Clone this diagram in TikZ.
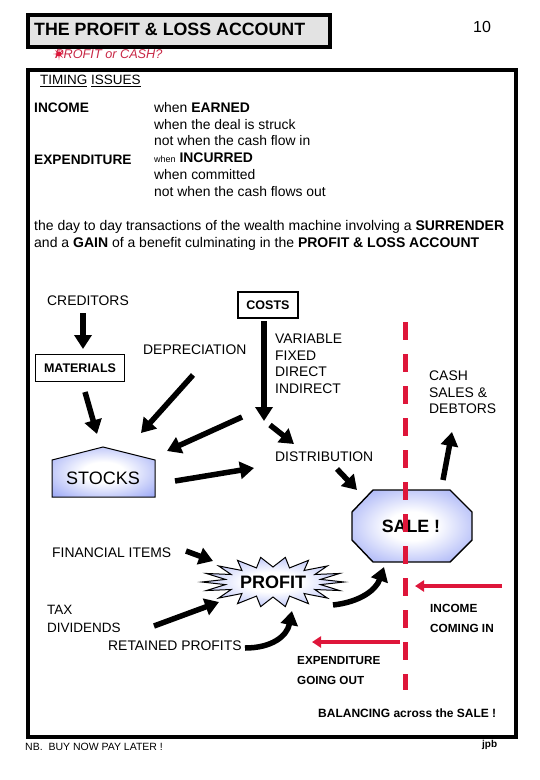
\documentclass[tikz,border=0pt]{standalone}
\usepackage{fontspec}
\setmainfont{Liberation Sans}
\usetikzlibrary{arrows.meta,shapes.geometric}
\definecolor{crim}{RGB}{222,22,58}
\definecolor{pinkred}{RGB}{200,40,70}
\definecolor{shblue}{RGB}{95,115,240}
\pgfdeclareradialshading{bluerad}{\pgfpoint{0bp}{0bp}}{%
  color(0bp)=(white); color(10bp)=(white); color(30bp)=(shblue!50!white); color(48bp)=(shblue); color(72bp)=(shblue)}
\begin{document}
\begin{tikzpicture}[x=1pt,y=-1pt,
  txt/.style={inner sep=0pt, anchor=west, font=\fontsize{13.9}{16.8}\selectfont},
  txtblock/.style={inner sep=0pt, anchor=north west, align=left},
  btxt/.style={inner sep=0pt, anchor=west, font=\bfseries\fontsize{13.7}{15}\selectfont},
  blk/.style={line width=5.5pt, -{Triangle[width=17pt,length=14pt]}},
  redarr/.style={crim, line width=3.5pt, -{Triangle[width=11pt,length=9pt]}},
  boxed/.style={draw, line width=1.6pt, inner sep=0pt, font=\bfseries\fontsize{12.5}{14}\selectfont},
  blueshade/.style={draw=black, line width=1pt, shading=bluerad}]
\useasboundingbox (0,0) rectangle (540,780);

% ---------- title ----------
\node[draw, line width=4pt, fill=gray!22, minimum width=302pt, minimum height=32pt, anchor=north west, inner sep=0pt] (title) at (26,13) {};
\node[anchor=west, inner sep=0pt, font=\bfseries\fontsize{17.8}{20}\selectfont] (ttext) at (34,29) {THE PROFIT \& LOSS ACCOUNT};
\node[inner sep=0pt, font=\fontsize{16}{18}\selectfont] (pnum) at (482,27) {10};

% ---------- subtitle ----------
\node[anchor=west, inner sep=0pt, text=pinkred, font=\itshape\fontsize{12.7}{14}\selectfont] (sub) at (55,54) {PROFIT or CASH?};
\fill[crim] plot[domain=0:360, samples=17, variable=\t] ({59+(3.8+2.2*cos(8*\t))*cos(\t)}, {54+(3.8+2.2*cos(8*\t))*sin(\t)}) -- cycle;

% ---------- main frame ----------
\node[draw, line width=4pt, minimum width=488pt, minimum height=667pt, anchor=north west, inner sep=0pt] (main) at (26,68) {};

\node[txt, font=\fontsize{13.5}{14}\selectfont] (timing) at (40,81) {\underline{TIMING} \underline{ISSUES}};
\node[btxt] (income) at (34,108) {INCOME};
\node[btxt] (expend) at (34,160) {EXPENDITURE};
\node[txtblock, font=\fontsize{13.9}{16.8}\selectfont] (when) at (154,102)
  {when \textbf{EARNED}\\
   when the deal is struck\\
   not when the cash flow in\\
   {\fontsize{9}{10}\selectfont when} \textbf{INCURRED}\\
   when committed\\
   not when the cash flows out};
\node[txtblock, font=\fontsize{14}{17}\selectfont] (para) at (34,220)
  {the day to day transactions of the wealth machine involving a \textbf{SURRENDER}\\
   and a \textbf{GAIN} of a benefit culminating in the \textbf{PROFIT \& LOSS ACCOUNT}};

% ---------- diagram texts ----------
\node[txt] (cred) at (47,301) {CREDITORS};
\node[boxed, minimum width=60pt, minimum height=26pt] (costs) at (268,305) {COSTS};
\node[boxed, minimum width=89pt, minimum height=27pt] (mat) at (80,368) {MATERIALS};
\node[txt] (depr) at (143,350) {DEPRECIATION};
\node[txtblock, font=\fontsize{13.9}{16.5}\selectfont] (vari) at (275,334) {VARIABLE\\FIXED\\DIRECT\\INDIRECT};
\node[txtblock, font=\fontsize{13.9}{16.5}\selectfont] (cash) at (429,371) {CASH\\SALES \&\\DEBTORS};
\node[txt] (distr) at (275,457) {DISTRIBUTION};
\node[txt] (fin) at (52,553) {FINANCIAL ITEMS};
\node[txtblock, font=\fontsize{13.5}{18}\selectfont] (tax) at (47,605) {TAX\\DIVIDENDS};
\node[txt] (ret) at (108,646) {RETAINED PROFITS};
\node[txtblock, font=\bfseries\fontsize{11.8}{20}\selectfont] (inc2) at (430,604) {INCOME\\COMING IN};
\node[txtblock, font=\bfseries\fontsize{11.7}{20}\selectfont] (exp2) at (297,656) {EXPENDITURE\\GOING OUT};
\node[btxt, font=\bfseries\fontsize{12}{14}\selectfont] (bal) at (318,713) {BALANCING across the SALE !};
\node[txt, font=\fontsize{10.5}{12}\selectfont] (nb) at (25,747) {NB.\ \ BUY NOW PAY LATER !};
\node[txt, font=\bfseries\fontsize{10}{12}\selectfont] (sig) at (482,745) {jpb};

% ---------- shapes ----------
\path[blueshade] (52,460) -- (103,447) -- (155,460) -- (155,497) -- (52,497) -- cycle;
\node[inner sep=0pt, font=\fontsize{18}{20}\selectfont] (stocks) at (103,478) {STOCKS};

\path[blueshade, line width=1.4pt] (373,490) -- (450,490) -- (472,512) -- (472,540) -- (450,562) -- (373,562) -- (352,540) -- (352,512) -- cycle;
\node[inner sep=0pt, font=\bfseries\fontsize{17.8}{20}\selectfont] (sale) at (411,526) {SALE !};

\path[blueshade] plot[domain=0:360, samples=37, variable=\t]
  ({273+71*(0.84+0.16*cos(18*\t))*cos(\t)}, {582+25*(0.8+0.2*cos(18*\t))*sin(\t)}) -- cycle;
\node[inner sep=0pt, font=\bfseries\fontsize{18}{20}\selectfont] (profit) at (273,582) {PROFIT};

% ---------- arrow end points ----------
\coordinate (a1s) at (83,313);  \coordinate (a1e) at (83,349);
\coordinate (a2s) at (85,392);  \coordinate (a2e) at (97,434);
\coordinate (a3s) at (193,375); \coordinate (a3e) at (141,433);
\coordinate (a4s) at (264,321); \coordinate (a4e) at (264,421);
\coordinate (a5s) at (242,417); \coordinate (a5e) at (167,451);
\coordinate (a6s) at (270,425); \coordinate (a6e) at (294,444);
\coordinate (a7s) at (175,481); \coordinate (a7e) at (254,468);
\coordinate (a8s) at (337,469); \coordinate (a8e) at (357,490);
\coordinate (a9s) at (443,480); \coordinate (a9e) at (452,432);
\coordinate (a10s) at (186,551); \coordinate (a10e) at (213,561);
\coordinate (a11s) at (154,626); \coordinate (a11e) at (219,602);
\coordinate (a12s) at (333,605); \coordinate (a12e) at (384,567);
\coordinate (a13s) at (245,648); \coordinate (a13e) at (292,611);
\coordinate (r1s) at (502,586); \coordinate (r1e) at (415,586);
\coordinate (r2s) at (400,642); \coordinate (r2e) at (312,642);

% ---------- black arrows ----------
\draw[blk] (a1s) -- (a1e);
\draw[blk] (a2s) -- (a2e);
\draw[blk] (a3s) -- (a3e);
\draw[blk] (a4s) -- (a4e);
\draw[blk] (a5s) -- (a5e);
\draw[blk] (a6s) -- (a6e);
\draw[blk] (a7s) -- (a7e);
\draw[blk] (a8s) -- (a8e);
\draw[blk] (a9s) -- (a9e);
\draw[blk] (a10s) -- (a10e);
\draw[blk] (a11s) -- (a11e);
\draw[blk] (a12s) .. controls (360,602) and (376,590) .. (a12e);
\draw[blk] (a13s) .. controls (272,648) and (287,636) .. (a13e);

% ---------- red ----------
\draw[crim, line width=5pt, dash pattern=on 18pt off 14pt] (405,322) -- (405,690);
\draw[redarr] (r1s) -- (r1e);
\draw[redarr] (r2s) -- (r2e);
\end{tikzpicture}
\end{document}
